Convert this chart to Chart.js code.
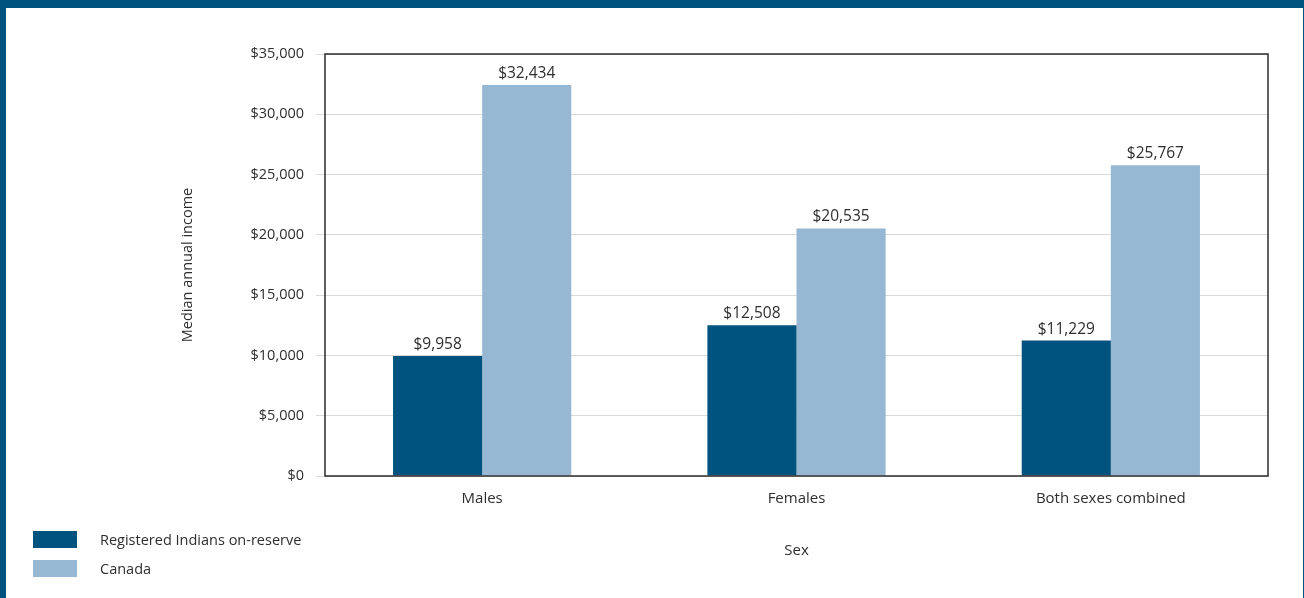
<!DOCTYPE html>
<html>
<head>
<meta charset="utf-8">
<title>Median annual income by sex</title>
<script src="https://cdn.jsdelivr.net/npm/chart.js@4.4.0/dist/chart.umd.min.js"></script>
<style>
  html, body { margin: 0; padding: 0; background: #fff; }
  #wrap { position: relative; width: 1304px; height: 598px; overflow: hidden; }
  #wrap canvas { position: absolute; left: 0; top: 0; }
  .band { position: absolute; background: #00527f; }
</style>
</head>
<body>
<div id="wrap">
  <canvas id="income-chart" width="1304" height="598"></canvas>
  <div class="band" style="left:0;top:0;width:1304px;height:8px;"></div>
  <div class="band" style="left:0;top:0;width:6px;height:598px;"></div>
  <div class="band" style="left:1303px;top:0;width:1px;height:598px;"></div>
</div>
<script>
// Data
const categories = ["Males", "Females", "Both sexes combined"];
const onReserve = [9958, 12508, 11229];
const canada = [32434, 20535, 25767];
const seriesNames = ["Registered Indians on-reserve", "Canada"];
const seriesColors = ["#00527f", "#97b8d2"];
const yMax = 35000;
const yStep = 5000;

const FONT = "'Open Sans', 'Noto Sans', sans-serif";
const TEXT = "#2e2e2e";

function money(v) {
    return "$" + Number(v).toLocaleString("en-US");
}

// value labels above each bar, the box round the plot and the legend
const extras = {
    id: "extras",
    afterDatasetsDraw(chart) {
        const ctx = chart.ctx;
        ctx.save();
        ctx.font = "15.5px " + FONT;
        ctx.fillStyle = TEXT;
        ctx.textAlign = "center";
        ctx.textBaseline = "alphabetic";
        chart.data.datasets.forEach((ds, i) => {
            chart.getDatasetMeta(i).data.forEach((bar, j) => {
                ctx.fillText(money(ds.data[j]), bar.x, bar.y - 7);
            });
        });
        ctx.restore();
    },
    afterDraw(chart) {
        const ctx = chart.ctx;
        const a = chart.chartArea;
        ctx.save();
        ctx.strokeStyle = "#2b2b2b";
        ctx.lineWidth = 1.5;
        ctx.strokeRect(a.left, a.top, a.right - a.left, a.bottom - a.top);

        // legend
        ctx.font = "14.5px " + FONT;
        ctx.textBaseline = "middle";
        ctx.textAlign = "left";
        const rows = [531, 560];
        seriesNames.forEach((name, i) => {
            ctx.fillStyle = seriesColors[i];
            ctx.fillRect(33, rows[i], 44, 17);
            ctx.fillStyle = TEXT;
            ctx.fillText(name, 100, rows[i] + 10);
        });
        ctx.restore();
    }
};

const incomeCanvas = document.getElementById("income-chart");
const incomeChart = new Chart(incomeCanvas, {
    type: "bar",
    data: {
        labels: categories,
        datasets: [{
            label: seriesNames[0],
            data: onReserve,
            backgroundColor: seriesColors[0]
        }, {
            label: seriesNames[1],
            data: canada,
            backgroundColor: seriesColors[1]
        }]
    },
    options: {
        responsive: false,
        devicePixelRatio: 1,
        animation: false,
        layout: {
            padding: { top: 54, right: 36, bottom: 0, left: 0 }
        },
        datasets: {
            bar: {
                barPercentage: 1,
                categoryPercentage: 0.567,
                borderWidth: 0
            }
        },
        scales: {
            x: {
                grid: { display: false, drawTicks: false },
                border: { display: false },
                ticks: {
                    color: TEXT,
                    font: { family: FONT, size: 15 },
                    padding: 14
                },
                title: {
                    display: true,
                    text: "Sex",
                    color: TEXT,
                    font: { family: FONT, size: 15 },
                    padding: { top: 0, bottom: 38 }
                },
                afterFit(scale) { scale.height = 122; }
            },
            y: {
                min: 0,
                max: yMax,
                grid: {
                    color: "#d9d9d9",
                    lineWidth: 1,
                    tickLength: 9,
                    tickColor: "#d9d9d9"
                },
                border: { display: false },
                ticks: {
                    stepSize: yStep,
                    color: TEXT,
                    font: { family: FONT, size: 14.5 },
                    padding: 12,
                    callback: v => money(v)
                },
                title: {
                    display: true,
                    text: "Median annual income",
                    color: TEXT,
                    font: { family: FONT, size: 14.5 },
                    padding: { top: 179, bottom: 0 }
                },
                afterFit(scale) { scale.width = 325; }
            }
        },
        plugins: {
            legend: { display: false },
            tooltip: { enabled: false }
        }
    },
    plugins: [extras]
});
</script>
</body>
</html>
